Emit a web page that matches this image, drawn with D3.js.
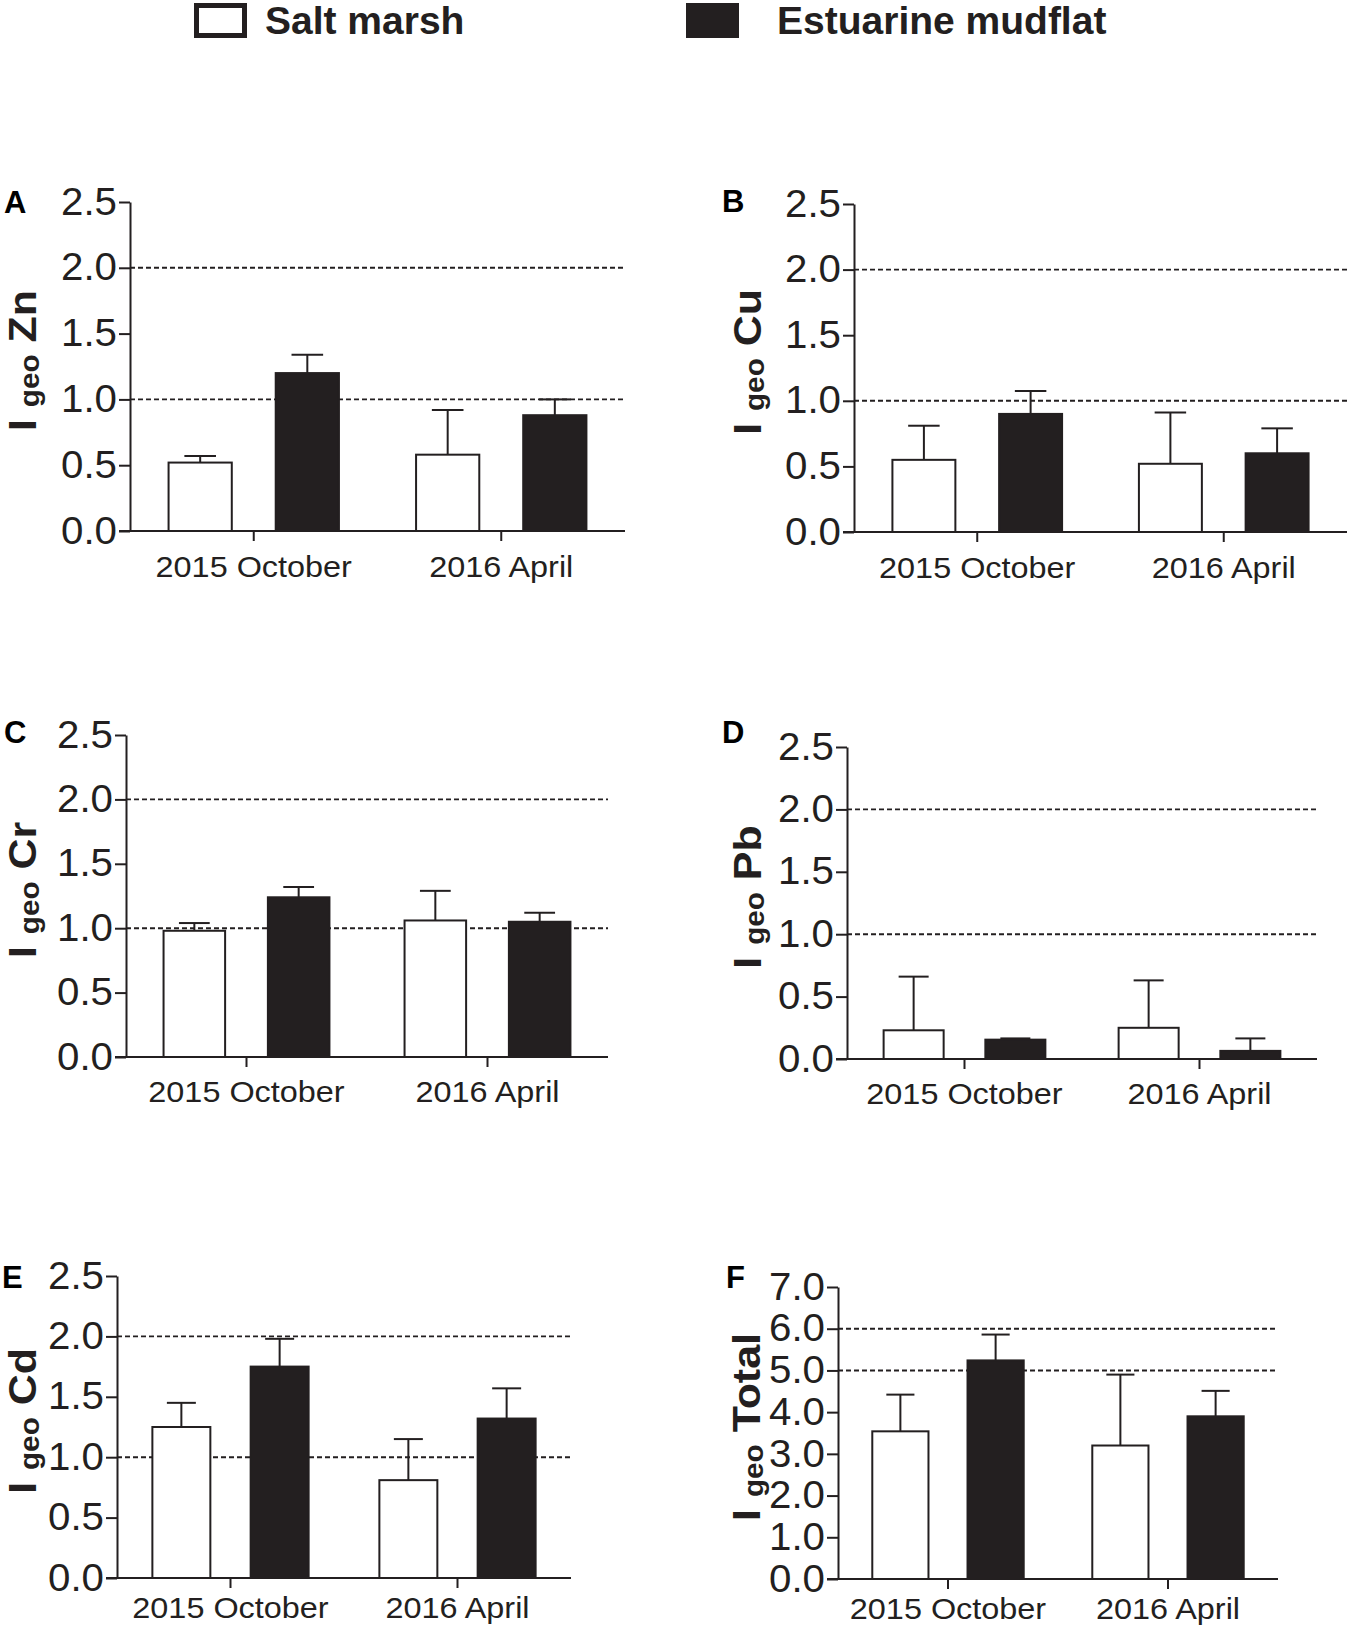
<!DOCTYPE html>
<html>
<head>
<meta charset="utf-8">
<script src="https://cdn.jsdelivr.net/npm/d3@7"></script>
<style>
  body { margin: 0; background: #fff; }
  svg { display: block; font-family: "Liberation Sans", Arial, sans-serif; }
</style>
</head>
<body>
<div id="chart"></div>
<script>
// data
const categories = ["2015 October", "2016 April"];
const seriesNames = ["Salt marsh", "Estuarine mudflat"];
const panelLetters = ["A", "B", "C", "D", "E", "F"];
const metals = ["Zn", "Cu", "Cr", "Pb", "Cd", "Total"];
const saltMarshMean = [[0.52, 0.58], [0.55, 0.52], [0.98, 1.06], [0.23, 0.25], [1.25, 0.81], [3.54, 3.20]];
const saltMarshSD = [[0.05, 0.34], [0.26, 0.39], [0.06, 0.23], [0.43, 0.38], [0.20, 0.34], [0.88, 1.70]];
const mudflatMean = [[1.20, 0.88], [0.90, 0.60], [1.24, 1.05], [0.155, 0.065], [1.75, 1.32], [5.24, 3.90]];
const mudflatSD = [[0.14, 0.12], [0.175, 0.19], [0.08, 0.07], [0.01, 0.10], [0.23, 0.25], [0.62, 0.61]];
const yMax = [2.5, 2.5, 2.5, 2.5, 2.5, 7.0];
const yStep = [0.5, 0.5, 0.5, 0.5, 0.5, 1.0];
const thresholds = [[1, 2], [1, 2], [1, 2], [1, 2], [1, 2], [5, 6]];

// panel boxes (axis left, axis right, y of top tick, y of zero)
const boxes = [
    { left: 130, right: 625, top: 202, bottom: 531, labelX: 36, letterX: 4, letterY: 213, catY: 46 },
    { left: 854, right: 1347, top: 204, bottom: 532, labelX: 761, letterX: 722, letterY: 212, catY: 46 },
    { left: 126, right: 608, top: 735, bottom: 1057, labelX: 36, letterX: 4, letterY: 743, catY: 45 },
    { left: 847, right: 1317, top: 747, bottom: 1059, labelX: 761, letterX: 722, letterY: 743, catY: 45 },
    { left: 117, right: 571, top: 1276, bottom: 1578, labelX: 36, letterX: 2, letterY: 1288, catY: 40 },
    { left: 838, right: 1278, top: 1287, bottom: 1579, labelX: 760, letterX: 726, letterY: 1288, catY: 40 }
];

const ink = "#231f20";
const stretch = 1.06; // tick text in the figure runs a little wide

const svg = d3.select("#chart")
    .append("svg")
    .attr("width", 1350)
    .attr("height", 1629);

// legend
const legend = svg.append("g");
legend.append("rect")
    .attr("x", 196.5).attr("y", 5.5)
    .attr("width", 48).attr("height", 30)
    .attr("fill", "#fff").attr("stroke", ink).attr("stroke-width", 5);
legend.append("rect")
    .attr("x", 686).attr("y", 3)
    .attr("width", 53).attr("height", 35)
    .attr("fill", ink);
legend.selectAll("text.leg")
    .data(seriesNames)
    .join("text")
    .attr("class", "leg")
    .attr("x", (d, i) => i === 0 ? 265 : 777)
    .attr("y", 34)
    .attr("font-size", "39px")
    .attr("font-weight", "bold")
    .attr("fill", ink)
    .text(d => d);

panelLetters.forEach((letter, p) => {
    const b = boxes[p];
    const g = svg.append("g");

    const x = d3.scaleBand()
        .domain(categories)
        .range([b.left, b.right])
        .padding(0);

    const xInner = d3.scaleBand()
        .domain(seriesNames)
        .range([0, x.bandwidth()])
        .paddingInner(0.41)
        .paddingOuter(0.36);

    const y = d3.scaleLinear()
        .domain([0, yMax[p]])
        .range([b.bottom, b.top]);

    const ticks = d3.range(0, yMax[p] + 1e-9, yStep[p]);

    // threshold dashed lines
    g.selectAll("line.thr")
        .data(thresholds[p])
        .join("line")
        .attr("class", "thr")
        .attr("x1", b.left).attr("x2", b.right)
        .attr("y1", d => y(d)).attr("y2", d => y(d))
        .attr("stroke", ink)
        .attr("stroke-width", 1.9)
        .attr("stroke-dasharray", "5,3");

    // rows: one per category x series
    const rows = [];
    categories.forEach((c, ci) => {
        rows.push({ cat: c, s: seriesNames[0], mean: saltMarshMean[p][ci], sd: saltMarshSD[p][ci] });
        rows.push({ cat: c, s: seriesNames[1], mean: mudflatMean[p][ci], sd: mudflatSD[p][ci] });
    });

    const bw = xInner.bandwidth();

    // error bars (upper only)
    g.selectAll("line.err")
        .data(rows)
        .join("line")
        .attr("class", "err")
        .attr("x1", d => x(d.cat) + xInner(d.s) + bw / 2)
        .attr("x2", d => x(d.cat) + xInner(d.s) + bw / 2)
        .attr("y1", d => y(d.mean))
        .attr("y2", d => y(d.mean + d.sd))
        .attr("stroke", ink).attr("stroke-width", 2);
    g.selectAll("line.cap")
        .data(rows)
        .join("line")
        .attr("class", "cap")
        .attr("x1", d => x(d.cat) + xInner(d.s) + bw * 0.25)
        .attr("x2", d => x(d.cat) + xInner(d.s) + bw * 0.75)
        .attr("y1", d => y(d.mean + d.sd))
        .attr("y2", d => y(d.mean + d.sd))
        .attr("stroke", ink).attr("stroke-width", 2);

    // bars
    g.selectAll("rect.bar")
        .data(rows)
        .join("rect")
        .attr("class", "bar")
        .attr("x", d => x(d.cat) + xInner(d.s))
        .attr("y", d => y(d.mean))
        .attr("width", bw)
        .attr("height", d => y(0) - y(d.mean))
        .attr("fill", d => d.s === seriesNames[0] ? "#fff" : ink)
        .attr("stroke", ink)
        .attr("stroke-width", 2);

    // y axis
    const yAxis = g.append("g")
        .attr("transform", `translate(${b.left},0)`)
        .call(d3.axisLeft(y).tickValues(ticks).tickSize(11).tickSizeOuter(0).tickFormat(d3.format(".1f")));
    yAxis.select(".domain").attr("stroke", ink).attr("stroke-width", 2);
    yAxis.selectAll(".tick line").attr("stroke", ink).attr("stroke-width", 2);
    yAxis.selectAll(".tick text")
        .attr("x", -13 / stretch)
        .attr("transform", `scale(${stretch},1)`)
        .attr("font-size", "38px")
        .attr("font-family", "Liberation Sans, Arial, sans-serif")
        .attr("fill", ink);

    // x axis
    const xAxis = g.append("g")
        .attr("transform", `translate(0,${b.bottom})`)
        .call(d3.axisBottom(x).tickSize(10).tickSizeOuter(0));
    xAxis.select(".domain").remove();
    xAxis.selectAll(".tick line").attr("stroke", ink).attr("stroke-width", 2);
    xAxis.selectAll(".tick text")
        .attr("y", b.catY)
        .attr("dy", 0)
        .attr("transform", "scale(1.08,1)")
        .attr("font-size", "30px")
        .attr("font-family", "Liberation Sans, Arial, sans-serif")
        .attr("fill", ink);
    g.append("line")
        .attr("x1", b.left - 11).attr("x2", b.right)
        .attr("y1", b.bottom).attr("y2", b.bottom)
        .attr("stroke", ink).attr("stroke-width", 2);

    // y label: I geo <metal>
    const label = g.append("text")
        .attr("transform", `translate(${b.labelX},${(b.top + b.bottom) / 2 - 6}) rotate(-90) scale(1.1,1)`)
        .attr("text-anchor", "middle")
        .attr("font-weight", "bold")
        .attr("font-size", "39px")
        .attr("fill", ink);
    label.append("tspan").text("I ");
    label.append("tspan").attr("font-size", "27px").attr("dy", 3).text("geo");
    label.append("tspan").attr("dy", -3).text(" " + metals[p]);

    // panel letter
    g.append("text")
        .attr("x", b.letterX)
        .attr("y", b.letterY)
        .attr("font-size", "31px")
        .attr("font-weight", "bold")
        .attr("fill", "#000")
        .text(letter);
});
</script>
</body>
</html>
